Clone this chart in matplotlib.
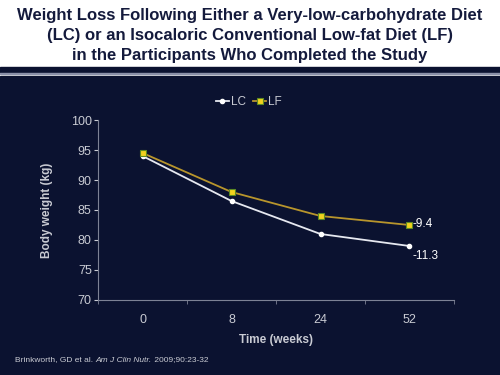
"""
Weight loss chart: LC vs LF diet (Brinkworth et al. 2009)
"""
import matplotlib
matplotlib.use("Agg")
import matplotlib.pyplot as plt
from matplotlib.patches import Rectangle

# data
weeks = ["0", "8", "24", "52"]
lc_weight = [94.0, 86.5, 81.0, 79.0]
lf_weight = [94.5, 88.0, 84.0, 82.5]
end_labels = ["-11.3", "-9.4"]

title = ("Weight Loss Following Either a Very-low-carbohydrate Diet\n"
         "(LC) or an Isocaloric Conventional Low-fat Diet (LF)\n"
         "in the Participants Who Completed the Study")

navy = "#0b1230"
grey_txt = "#c9cbd3"
axis_col = "#7d8295"

plt.rcParams["font.family"] = ["Liberation Sans", "DejaVu Sans"]

fig = plt.figure(figsize=(5, 3.75), dpi=100)
fig.patch.set_facecolor("white")

# 背景条纹
def band(y0, y1, color):
    fig.patches.append(Rectangle((0, 1 - y1 / 375), 1, (y1 - y0) / 375,
                                 transform=fig.transFigure, color=color, zorder=-5))

band(75.5, 375, navy)
band(67, 71.5, navy)
band(73, 74, "#8a90a8")

fig.text(0.5, 1 - 35.5 / 375, title, ha="center", va="center", fontsize=12.0,
         fontweight="bold", color="#141a3c", linespacing=1.42)

ax = fig.add_axes([0.196, 0.2, 0.712, 0.48])
ax.set_zorder(3)
ax.set_facecolor(navy)
x = list(range(len(weeks)))

ax.plot(x, lc_weight, color="#e6e8f0", lw=1.3, marker="o", ms=3,
        mfc="white", mec="white", label="LC")
ax.plot(x, lf_weight, color="#b8952c", lw=1.3, marker="s", ms=4.5,
        mfc="#f2d21e", mec="#5c8a24", mew=0.8, label="LF")

ax.text(x[-1] + 0.03, lc_weight[-1] - 1.7, end_labels[0], color="white",
        fontsize=8.5, ha="left", va="center")
ax.text(x[-1] + 0.03, lf_weight[-1] + 0.2, end_labels[1], color="white",
        fontsize=8.5, ha="left", va="center")

ax.set_xlim(-0.5, 3.5)
ax.set_ylim(70, 100)
ax.set_yticks(range(70, 101, 5))
ax.set_xticks(x)
ax.set_xticklabels(weeks)
ax.set_xticks([i - 0.5 for i in range(len(weeks) + 1)], minor=True)
ax.tick_params(axis="x", which="major", length=0, pad=10)
ax.tick_params(axis="x", which="minor", length=3, color=axis_col, direction="out")
ax.tick_params(axis="y", length=3, color=axis_col, pad=1.5)
ax.tick_params(colors=grey_txt, labelsize=9)
for s in ["top", "right"]:
    ax.spines[s].set_visible(False)
for s in ["left", "bottom"]:
    ax.spines[s].set_color(axis_col)

ax.set_xlabel("Time (weeks)", color=grey_txt, fontsize=8.5, fontweight="bold",
              labelpad=6)
ax.set_ylabel("Body weight (kg)", color=grey_txt, fontsize=8.5, fontweight="bold",
              labelpad=13)

leg = ax.legend(loc="center", bbox_to_anchor=(0.424, 1.1), ncol=2, frameon=False,
                fontsize=8.5, handlelength=1.1, handletextpad=0.2,
                columnspacing=0.6, labelcolor=grey_txt)

# 引用
t1 = fig.text(0.03, 1 - 360 / 375, "Brinkworth, GD et al. ", fontsize=6,
              color=grey_txt, va="center")
t2 = fig.text(0, 0, "Am J Clin Nutr.", fontsize=6, color=grey_txt,
              style="italic", va="center")
t3 = fig.text(0, 0, " 2009;90:23-32", fontsize=6, color=grey_txt, va="center")
fig.canvas.draw()
r = fig.canvas.get_renderer()
inv = fig.transFigure.inverted()
bb = t1.get_window_extent(r)
t2.set_x(inv.transform((bb.x1, 0))[0])
t2.set_y(t1.get_position()[1])
bb = t2.get_window_extent(r)
t3.set_x(inv.transform((bb.x1, 0))[0])
t3.set_y(t1.get_position()[1])

fig.savefig("out.png", dpi=100, facecolor=fig.get_facecolor())
